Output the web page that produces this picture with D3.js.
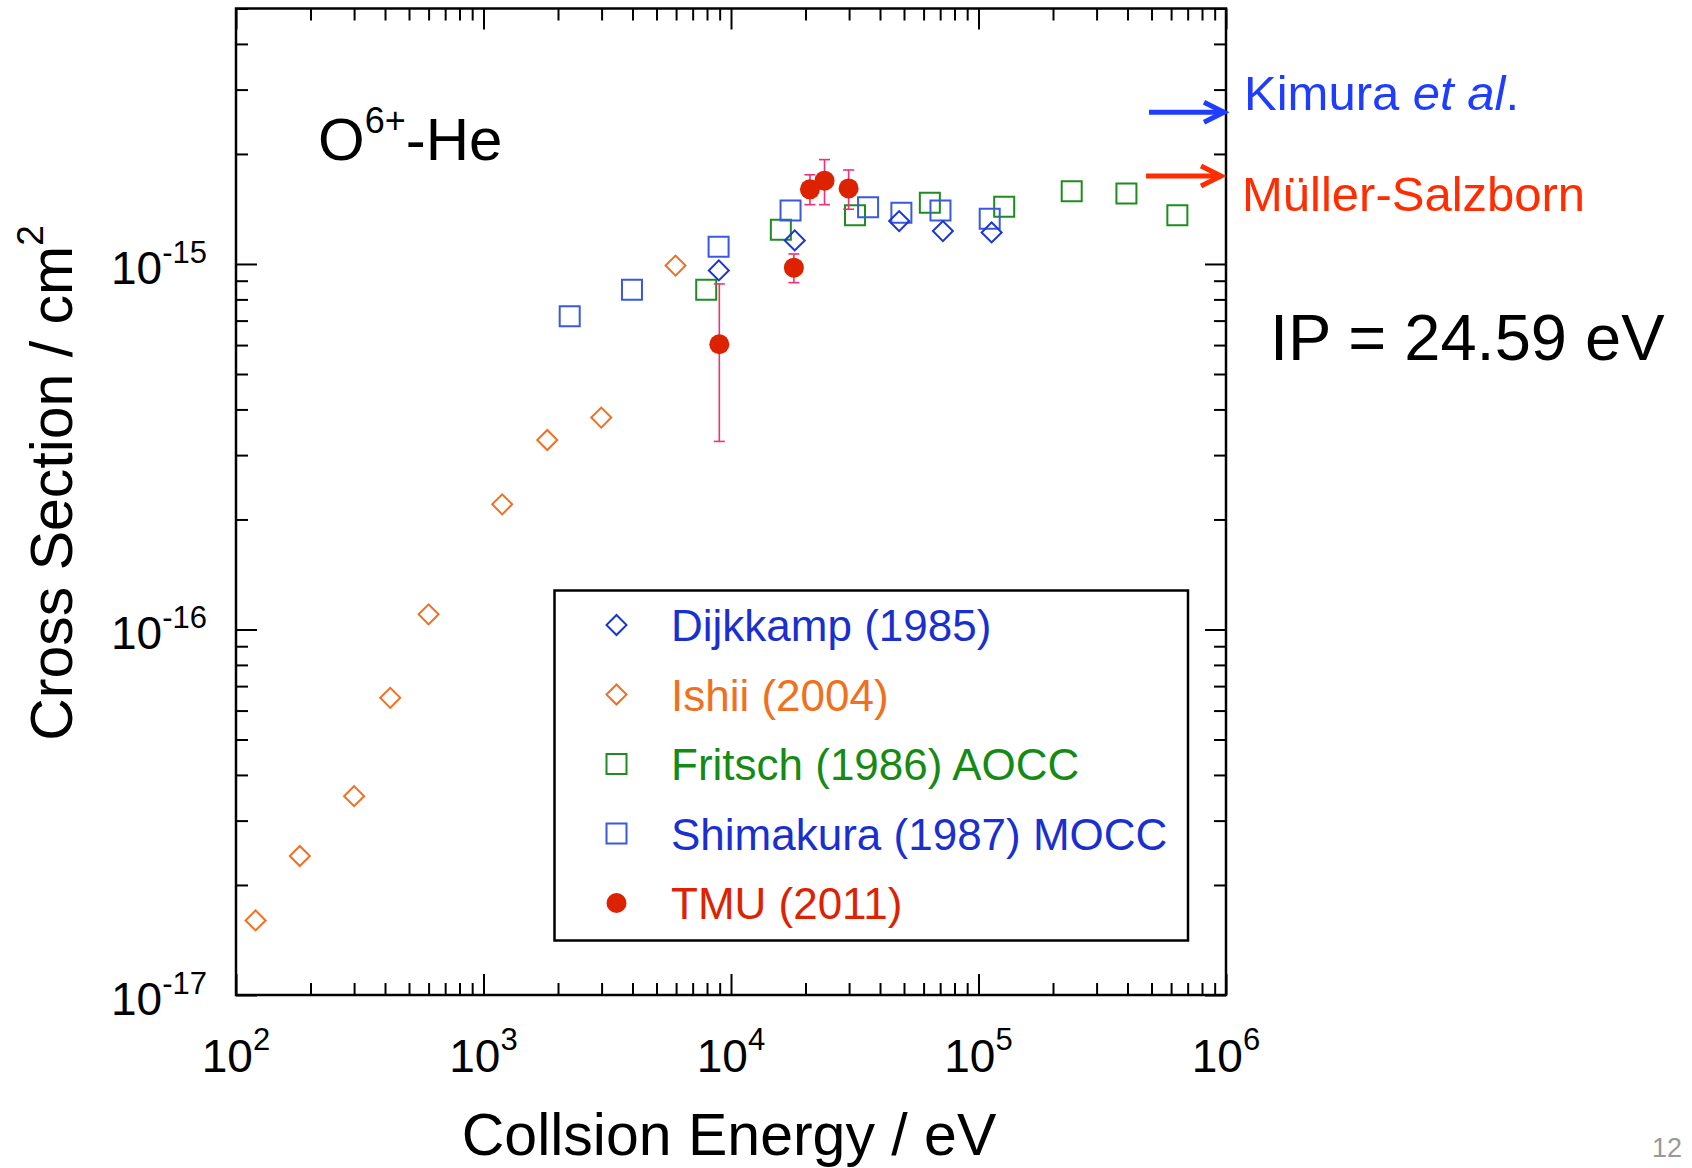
<!DOCTYPE html>
<html>
<head>
<meta charset="utf-8">
<script src="https://cdn.jsdelivr.net/npm/d3@7"></script>
<style>
  html, body { margin: 0; padding: 0; background: #fff; }
  svg { display: block; font-family: "Liberation Sans", Arial, Helvetica, sans-serif; }
</style>
</head>
<body>
<div id="chart"></div>
<script>
// collision energy (eV) and cross section (cm^2)
var ishiiE = [120, 181, 300, 420, 600, 1190, 1810, 2990, 5970];
var ishiiS = [1.6e-17, 2.4e-17, 3.5e-17, 6.5e-17, 1.1e-16, 2.2e-16, 3.3e-16, 3.8e-16, 9.9e-16];

var dijkkampE = [8930, 18100, 47800, 71800, 113000];
var dijkkampS = [9.6e-16, 1.16e-15, 1.31e-15, 1.23e-15, 1.22e-15];

var fritschE = [7940, 15900, 31700, 63600, 127000, 238000, 396000, 636000];
var fritschS = [8.5e-16, 1.24e-15, 1.36e-15, 1.47e-15, 1.435e-15, 1.58e-15, 1.56e-15, 1.36e-15];

var shimakuraE = [2230, 3980, 8910, 17400, 35800, 48800, 70200, 111000];
var shimakuraS = [7.2e-16, 8.5e-16, 1.115e-15, 1.40e-15, 1.43e-15, 1.38e-15, 1.40e-15, 1.33e-15];

var tmuE = [8970, 17950, 20840, 23870, 29870];
var tmuS = [6.03e-16, 9.77e-16, 1.60e-15, 1.69e-15, 1.61e-15];
var tmuLo = [3.27e-16, 8.89e-16, 1.453e-15, 1.453e-15, 1.412e-15];
var tmuHi = [8.82e-16, 1.065e-15, 1.754e-15, 1.93e-15, 1.808e-15];

// high energy limits shown as arrows on the right
var kimuraS = 2.6e-15;
var mullerS = 1.74e-15;

var legendLabels = ['Dijkkamp (1985)', 'Ishii (2004)', 'Fritsch (1986) AOCC', 'Shimakura (1987) MOCC', 'TMU (2011)'];
var xMajorTicks = [1e2, 1e3, 1e4, 1e5, 1e6];
var xExponents = ['2', '3', '4', '5', '6'];
var yMajorTicks = [1e-17, 1e-16, 1e-15];
var yExponents = ['-17', '-16', '-15'];

(function(d3) {
  'use strict';
  var width = 1692, height = 1168;
  var left = 236, right = 1226, top = 8.5, bottom = 995;

  var svg = d3.select('#chart').append('svg')
    .attr('width', width)
    .attr('height', height);
  svg.append('rect').attr('width', width).attr('height', height).attr('fill', '#fff');

  var x = d3.scaleLog().domain([1e2, 1e6]).range([left, right]);
  var y = d3.scaleLog().domain([1e-17, 5e-15]).range([bottom, top]);

  function isDecade(d) {
    var l = Math.log10(d);
    return Math.abs(l - Math.round(l)) < 1e-6;
  }
  var xMinor = x.ticks().filter(function(d) { return !isDecade(d); });
  var yMinor = y.ticks().filter(function(d) { return !isDecade(d); });

  // inward ticks on all four sides
  function addAxis(gen, tx, ty, vals, size) {
    svg.append('g')
      .attr('transform', 'translate(' + tx + ',' + ty + ')')
      .call(gen.tickValues(vals).tickSizeInner(-size).tickSizeOuter(0).tickFormat(''))
      .call(function(g) { g.select('.domain').remove(); })
      .selectAll('line').attr('stroke', '#000').attr('stroke-width', 2);
  }
  addAxis(d3.axisBottom(x), 0, bottom, xMinor, 12);
  addAxis(d3.axisBottom(x), 0, bottom, xMajorTicks, 21);
  addAxis(d3.axisTop(x), 0, top, xMinor, 12);
  addAxis(d3.axisTop(x), 0, top, xMajorTicks, 21);
  addAxis(d3.axisLeft(y), left, 0, yMinor, 12);
  addAxis(d3.axisLeft(y), left, 0, yMajorTicks, 21);
  addAxis(d3.axisRight(y), right, 0, yMinor, 12);
  addAxis(d3.axisRight(y), right, 0, yMajorTicks, 21);

  svg.append('rect')
    .attr('x', left).attr('y', top)
    .attr('width', right - left).attr('height', bottom - top)
    .attr('fill', 'none').attr('stroke', '#000').attr('stroke-width', 2.5);

  // tick labels as 10^n
  var xl = svg.append('g').selectAll('text').data(xMajorTicks).enter().append('text')
    .attr('x', function(d) { return x(d); })
    .attr('y', 1072)
    .attr('text-anchor', 'middle')
    .attr('font-size', 46);
  xl.append('tspan').text('10');
  xl.append('tspan').attr('dy', -22).attr('font-size', 31).text(function(d, i) { return xExponents[i]; });

  var yl = svg.append('g').selectAll('text').data(yMajorTicks).enter().append('text')
    .attr('x', 207)
    .attr('y', function(d) { return y(d) + 20; })
    .attr('text-anchor', 'end')
    .attr('font-size', 46);
  yl.append('tspan').text('10');
  yl.append('tspan').attr('dy', -21).attr('font-size', 31).text(function(d, i) { return yExponents[i]; });

  // axis titles
  svg.append('text')
    .attr('x', 729).attr('y', 1155)
    .attr('text-anchor', 'middle')
    .attr('font-size', 59)
    .text('Collsion Energy / eV');

  var yt = svg.append('text')
    .attr('transform', 'translate(72,483) rotate(-90)')
    .attr('text-anchor', 'middle')
    .attr('font-size', 59);
  yt.append('tspan').text('Cross Section / cm');
  yt.append('tspan').attr('dy', -29).attr('font-size', 37).text('2');

  // markers
  var sq = d3.symbol().type(d3.symbolSquare).size(400);
  var dia = d3.symbol().type(d3.symbolSquare).size(200);
  var dot = d3.symbol().type(d3.symbolCircle).size(Math.PI * 100);

  var series = [
    { e: ishiiE, s: ishiiS, path: dia(), rot: 45, stroke: '#f27022', fill: 'none' },
    { e: fritschE, s: fritschS, path: sq(), rot: 0, stroke: '#1e8c1e', fill: 'none' },
    { e: shimakuraE, s: shimakuraS, path: sq(), rot: 0, stroke: '#3a58e0', fill: 'none' },
    { e: dijkkampE, s: dijkkampS, path: dia(), rot: 45, stroke: '#1a35d6', fill: 'none' }
  ];
  series.forEach(function(sr) {
    svg.append('g').selectAll('path').data(sr.e).enter().append('path')
      .attr('d', sr.path)
      .attr('transform', function(d, i) {
        return 'translate(' + x(d) + ',' + y(sr.s[i]) + ') rotate(' + sr.rot + ')';
      })
      .attr('fill', sr.fill)
      .attr('stroke', sr.stroke)
      .attr('stroke-width', 2);
  });

  // TMU error bars then points
  var eb = svg.append('g').attr('stroke', '#f0307a').attr('stroke-width', 1.6);
  tmuE.forEach(function(d, i) {
    var cx = x(d);
    eb.append('line').attr('x1', cx).attr('x2', cx).attr('y1', y(tmuLo[i])).attr('y2', y(tmuHi[i]));
    eb.append('line').attr('x1', cx - 5.5).attr('x2', cx + 5.5).attr('y1', y(tmuLo[i])).attr('y2', y(tmuLo[i]));
    eb.append('line').attr('x1', cx - 5.5).attr('x2', cx + 5.5).attr('y1', y(tmuHi[i])).attr('y2', y(tmuHi[i]));
  });
  svg.append('g').selectAll('path').data(tmuE).enter().append('path')
    .attr('d', dot())
    .attr('transform', function(d, i) { return 'translate(' + x(d) + ',' + y(tmuS[i]) + ')'; })
    .attr('fill', '#dd2200');

  // legend
  var lg = svg.append('g');
  lg.append('rect')
    .attr('x', 554.5).attr('y', 590.5).attr('width', 633.5).attr('height', 350)
    .attr('fill', '#fff').attr('stroke', '#000').attr('stroke-width', 2.5);
  var legendMarks = [
    { path: dia(), rot: 45, stroke: '#1a35d6', fill: 'none', text: '#1a2fd0' },
    { path: dia(), rot: 45, stroke: '#f27022', fill: 'none', text: '#f07020' },
    { path: sq(), rot: 0, stroke: '#1e8c1e', fill: 'none', text: '#158a15' },
    { path: sq(), rot: 0, stroke: '#3a58e0', fill: 'none', text: '#1a2fd0' },
    { path: dot(), rot: 0, stroke: 'none', fill: '#dd2200', text: '#dd2200' }
  ];
  legendLabels.forEach(function(lbl, i) {
    var cy = 625 + i * 69.5;
    var m = legendMarks[i];
    lg.append('path')
      .attr('d', m.path)
      .attr('transform', 'translate(616.5,' + cy + ') rotate(' + m.rot + ')')
      .attr('fill', m.fill)
      .attr('stroke', m.stroke)
      .attr('stroke-width', 2);
    lg.append('text')
      .attr('x', 671).attr('y', cy + 16)
      .attr('font-size', 44)
      .attr('fill', m.text)
      .text(lbl);
  });

  // system label
  var sys = svg.append('text').attr('x', 318).attr('y', 160).attr('font-size', 60);
  sys.append('tspan').text('O');
  sys.append('tspan').attr('dy', -27).attr('font-size', 36).text('6+');
  sys.append('tspan').attr('dy', 27).text('-He');

  // arrows for the theory limits
  function arrow(val, tipX, color) {
    var ay = y(val);
    var g = svg.append('g').attr('stroke', color).attr('stroke-width', 5).attr('fill', 'none');
    g.append('line').attr('x1', tipX - 77).attr('x2', tipX - 2).attr('y1', ay).attr('y2', ay);
    g.append('path')
      .attr('d', 'M' + (tipX - 22) + ',' + (ay - 10) + 'L' + (tipX - 2) + ',' + ay + 'L' + (tipX - 22) + ',' + (ay + 10))
      .attr('stroke-linejoin', 'miter');
  }
  arrow(kimuraS, x(1e6), '#1f3dff');
  arrow(mullerS, x(1e6) - 3, '#ff2d00');

  var km = svg.append('text').attr('x', 1244).attr('y', 110).attr('font-size', 49).attr('fill', '#1f3dff');
  km.append('tspan').text('Kimura ');
  km.append('tspan').attr('font-style', 'italic').text('et al');
  km.append('tspan').text('.');

  svg.append('text').attr('x', 1242).attr('y', 211).attr('font-size', 49).attr('fill', '#ff2d00')
    .text('Müller-Salzborn');

  svg.append('text').attr('x', 1270).attr('y', 360).attr('font-size', 65)
    .text('IP = 24.59 eV');

  svg.append('text').attr('x', 1682).attr('y', 1157).attr('font-size', 27)
    .attr('text-anchor', 'end').attr('fill', '#999')
    .text('12');
})(window.d3);
</script>
</body>
</html>
